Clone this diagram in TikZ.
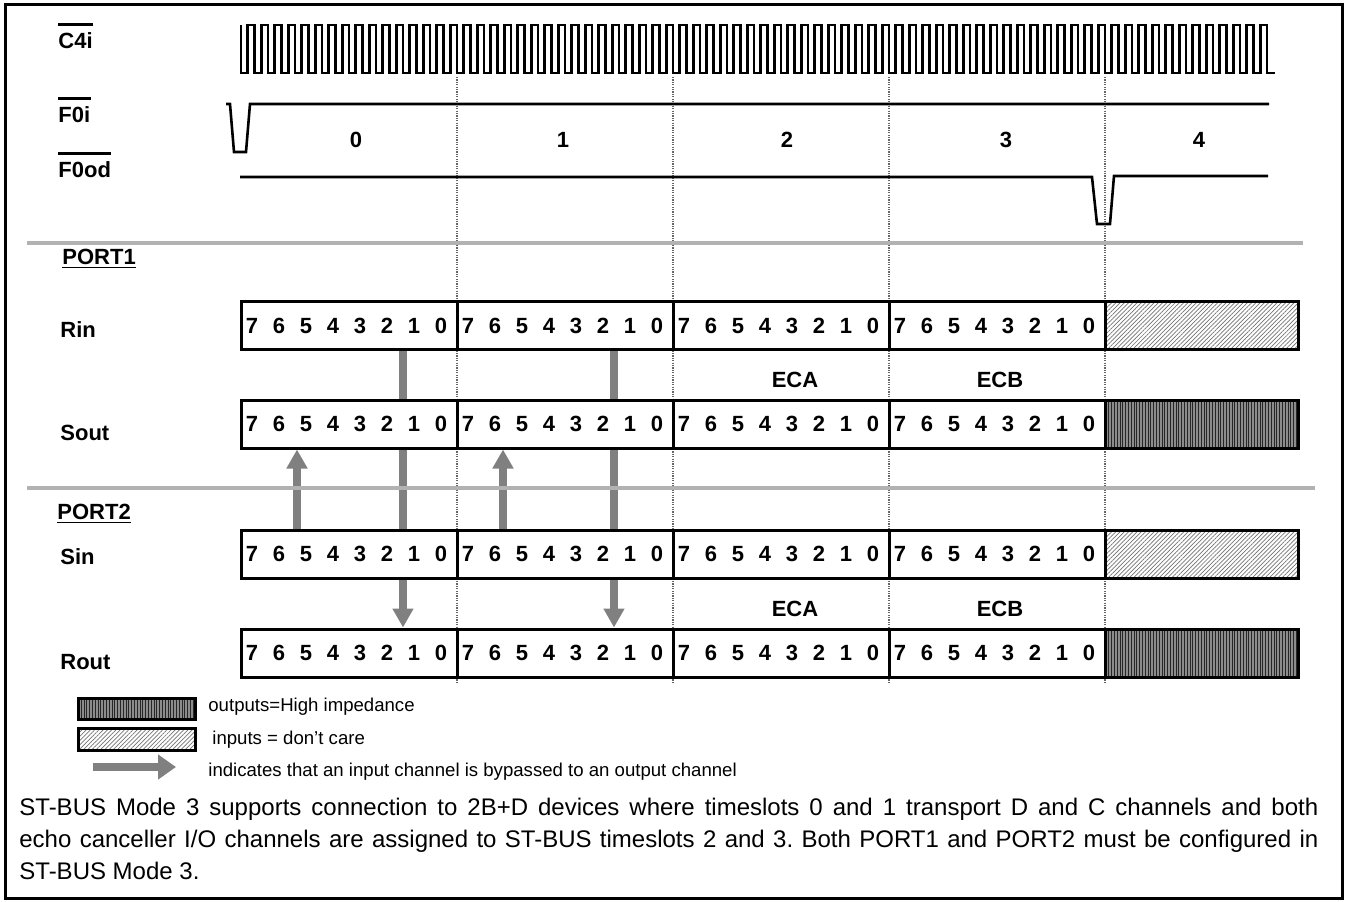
\documentclass[tikz,border=0pt]{standalone}
\usepackage{fontspec}
\setmainfont{Liberation Sans}
\usetikzlibrary{arrows.meta,patterns.meta}
\pgfdeclarelayer{background}
\pgfsetlayers{background,main}
\frenchspacing

\newcommand{\bitbox}[1]{\makebox[13.5pt]{#1}}
\newcommand{\bitrow}{\makebox[108pt][l]{\hspace*{-1.25pt}\bitbox7\bitbox6\bitbox5\bitbox4\bitbox3\bitbox2\bitbox1\bitbox0}}

\begin{document}
\begin{tikzpicture}[x=0.5pt, y=-0.5pt,
		cell_style/.style={draw=black, line width=1.5pt, fill=white, minimum width=108pt, minimum height=24pt, inner sep=0pt, font=\bfseries\fontsize{11}{13}\selectfont},
		dc_style/.style={draw=black, line width=1.5pt, minimum height=24pt, inner sep=0pt, preaction={fill=white}, pattern={Lines[angle=45,distance=1.5pt,line width=0.35pt]}, pattern color=black!55},
		hiz_style/.style={draw=black, line width=1.5pt, minimum height=24pt, inner sep=0pt, preaction={fill=black!45}, pattern={Lines[angle=90,distance=1.4pt,line width=0.5pt]}, pattern color=black!85},
		lbl_style/.style={inner sep=0pt, font=\bfseries\fontsize{11}{13}\selectfont},
		leg_style/.style={inner sep=0pt, anchor=west, font=\fontsize{9.3}{11}\selectfont},
		wave_style/.style={draw=black, line width=1.3pt, line join=miter},
		grid_style/.style={draw=black!60, line width=0.6pt, dash pattern=on 0.6pt off 0.6pt},
		sep_style/.style={draw=black!30, line width=2pt},
		bar_style/.style={draw=black!50, line width=3.6pt, -{Triangle[width=10pt,length=9.5pt]}}]

	\useasboundingbox (0,0) rectangle (1346,901);
	\draw[line width=1.5pt] (5,4) rectangle (1342,898);

	\node[lbl_style, anchor=west] (c4_lbl) at (58,41) {C4i};
	\node[lbl_style, anchor=west] (f0i_lbl) at (58,115) {F0i};
	\node[lbl_style, anchor=west] (f0od_lbl) at (58,170) {F0od};
	\draw[line width=1.3pt] ([yshift=4pt]c4_lbl.north west) -- ([yshift=4pt]c4_lbl.north east);
	\draw[line width=1.3pt] ([yshift=4pt]f0i_lbl.north west) -- ([yshift=4pt]f0i_lbl.north east);
	\draw[line width=1.3pt] ([yshift=4pt]f0od_lbl.north west) -- ([yshift=4pt]f0od_lbl.north east);

	\draw[wave_style] (241,25) \foreach \i in {0,...,75}{ -- ({241+13.5*\i},73) -- ({247.75+13.5*\i},73) -- ({247.75+13.5*\i},25) -- ({254.5+13.5*\i},25)} -- (1267,73) -- (1275,73);
	\draw[wave_style] (226,104) -- (230,104) -- (234,152) -- (246,152) -- (250,104) -- (1269,104);
	\draw[wave_style] (240,177) -- (1092,177) -- (1097,224) -- (1110,224) -- (1114,176) -- (1268,176);

	\node[lbl_style] (ts0) at (356,139.5) {0};
	\node[lbl_style] (ts1) at (563,139.5) {1};
	\node[lbl_style] (ts2) at (787,139.5) {2};
	\node[lbl_style] (ts3) at (1006,139.5) {3};
	\node[lbl_style] (ts4) at (1199,139.5) {4};

	\begin{pgfonlayer}{background}
		\foreach \x in {457,673,889,1105}
			\draw[grid_style] (\x,77) -- (\x,684);
	\end{pgfonlayer}

	\draw[sep_style] (27,243) -- (1303,243);
	\draw[sep_style] (27,488) -- (1315,488);

	\node[lbl_style, anchor=west] (port1) at (62,259) {\underline{PORT1}};
	\node[lbl_style, anchor=west] (port2) at (57,514) {\underline{PORT2}};
	\node[lbl_style, anchor=west] (rin_lbl) at (60,330) {Rin};
	\node[lbl_style, anchor=west] (sout_lbl) at (60,433) {Sout};
	\node[lbl_style, anchor=west] (sin_lbl) at (60,557) {Sin};
	\node[lbl_style, anchor=west] (rout_lbl) at (60,662) {Rout};

	\foreach \r/\y in {rin/325.5, sout/424, sin/554, rout/653}
		\foreach \t in {0,...,3}
			\node[cell_style] (\r\t) at ({349+216*\t},\y) {\bitrow};
	\node[dc_style, minimum width=96.5pt] (rin4) at (1201.5,325.5) {};
	\node[hiz_style, minimum width=96.5pt] (sout4) at (1201.5,424) {};
	\node[dc_style, minimum width=96.5pt] (sin4) at (1201.5,554) {};
	\node[hiz_style, minimum width=96.5pt] (rout4) at (1201.5,653) {};

	\node[lbl_style] (eca1) at (795,380) {ECA};
	\node[lbl_style] (ecb1) at (1000,380) {ECB};
	\node[lbl_style] (eca2) at (795,609) {ECA};
	\node[lbl_style] (ecb2) at (1000,609) {ECB};

	\coordinate (x_a) at (403,0);
	\coordinate (x_b) at (614,0);
	\coordinate (x_c) at (297,0);
	\coordinate (x_d) at (503,0);
	\begin{pgfonlayer}{background}
		\draw[bar_style] (rin0.south -| x_a) -- (rout0.north -| x_a);
		\draw[bar_style] (rin1.south -| x_b) -- (rout1.north -| x_b);
		\draw[bar_style] (sin0.north -| x_c) -- (sout0.south -| x_c);
		\draw[bar_style] (sin1.north -| x_d) -- (sout1.south -| x_d);
	\end{pgfonlayer}

	\node[hiz_style, minimum width=58.5pt, minimum height=10.5pt] (leg_hiz) at (136.5,708.5) {};
	\node[dc_style, minimum width=58.5pt, minimum height=11pt] (leg_dc) at (136.5,739) {};
	\coordinate (leg_tail) at (93,767);
	\coordinate (leg_head) at (176,767);
	\draw[bar_style, line width=4pt, -{Triangle[width=12pt,length=9pt]}] (leg_tail) -- (leg_head);
	\node[leg_style] (leg_hiz_txt) at (208,707) {outputs=High impedance};
	\node[leg_style] (leg_dc_txt) at (212,740) {inputs = don't care};
	\node[leg_style] (leg_bar_txt) at (208,772) {indicates that an input channel is bypassed to an output channel};

	\node[anchor=north west, inner sep=0pt, align=left, font=\fontsize{12}{16}\selectfont] (note) at (19,798) {\makebox[649.5pt][s]{ST-BUS Mode 3 supports connection to 2B+D devices where timeslots 0 and 1 transport D and C channels and both}\\ \makebox[649.5pt][s]{echo canceller I/O channels are assigned to ST-BUS timeslots 2 and 3. Both PORT1 and PORT2 must be configured in}\\ ST-BUS Mode 3.};
\end{tikzpicture}
\end{document}
